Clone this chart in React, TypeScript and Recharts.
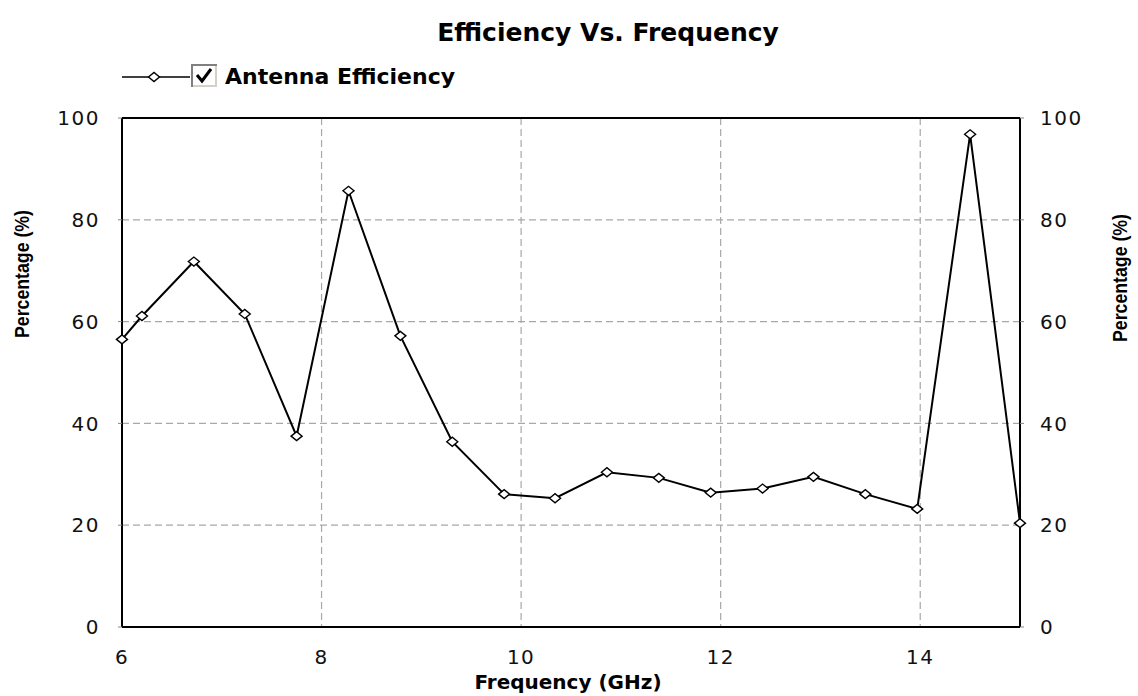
import React from "react";
import { LineChart, Line, XAxis, YAxis, CartesianGrid, ReferenceLine } from "recharts";

// frequency (GHz) of each sample
const freqs = [6.0, 6.2, 6.72, 7.23, 7.75, 8.27, 8.79, 9.31, 9.83, 10.34, 10.86, 11.38, 11.9, 12.42, 12.93, 13.45, 13.97, 14.5, 15.0];
// antenna efficiency (%)
const efficiency = [56.5, 61.1, 71.8, 61.5, 37.5, 85.7, 57.2, 36.4, 26.1, 25.3, 30.4, 29.3, 26.4, 27.2, 29.5, 26.1, 23.2, 96.8, 20.4];

const xTicks = [6, 8, 10, 12, 14];
const yTicks = [0, 20, 40, 60, 80, 100];

const W = 1138;
const H = 696;
const TICK_FONT = { fontFamily: "DejaVu Sans", fontSize: 20, fill: "#111", letterSpacing: 1.5 };
const BOLD = "DejaVu Sans";

const data = freqs.map((f, i) => ({ freq: f, eff: efficiency[i] }));

function Diamond(props: any) {
  const { cx, cy, index } = props;
  if (cx == null || cy == null) return null;
  return (
    <polygon
      key={index}
      points={`${cx - 5.5},${cy} ${cx},${cy - 4.5} ${cx + 5.5},${cy} ${cx},${cy + 4.5}`}
      fill="#fff"
      stroke="#000"
      strokeWidth={1.4}
    />
  );
}

export default function App() {
  return (
    <div style={{ position: "absolute", left: 0, top: 0, width: W, height: H, background: "#fff" }}>
      <LineChart width={W} height={H} data={data} margin={{ top: 118, right: 0, bottom: 0, left: 0 }}>
        <CartesianGrid yAxisId="left" stroke="#a8a8a8" strokeDasharray="7 4" strokeWidth={1.2} />
        <XAxis
          dataKey="freq"
          type="number"
          domain={[6, 15]}
          ticks={xTicks}
          height={69}
          axisLine={{ stroke: "#000", strokeWidth: 2 }}
          tickLine={false}
          tickMargin={17}
          tick={TICK_FONT}
        />
        <YAxis
          yAxisId="left"
          domain={[0, 100]}
          ticks={yTicks}
          width={122}
          axisLine={{ stroke: "#000", strokeWidth: 2 }}
          tickLine={{ stroke: "#888" }}
          tickSize={4}
          tickMargin={18}
          tick={TICK_FONT}
        />
        <YAxis
          yAxisId="right"
          orientation="right"
          domain={[0, 100]}
          ticks={yTicks}
          width={118}
          axisLine={{ stroke: "#000", strokeWidth: 2 }}
          tickLine={{ stroke: "#888" }}
          tickSize={4}
          tickMargin={16}
          tick={TICK_FONT}
        />
        <ReferenceLine yAxisId="left" y={100} stroke="#000" strokeWidth={2} />
        <Line
          yAxisId="left"
          type="linear"
          dataKey="eff"
          stroke="#000"
          strokeWidth={2}
          dot={Diamond}
          activeDot={false}
          isAnimationActive={false}
        />
        <Line yAxisId="right" dataKey="eff" stroke="none" dot={false} activeDot={false} isAnimationActive={false} />
      </LineChart>
      <svg width={W} height={H} style={{ position: "absolute", left: 0, top: 0, pointerEvents: "none" }}>
        <text x={608} y={41} textAnchor="middle" fontFamily={BOLD} fontWeight="bold" fontSize={25} fill="#000">
          Efficiency Vs. Frequency
        </text>
        {/* legend */}
        <line x1={122} y1={77} x2={190} y2={77} stroke="#000" strokeWidth={1.6} />
        <polygon points="148.5,77 154,72.5 159.5,77 154,81.5" fill="#fff" stroke="#000" strokeWidth={1.4} />
        <rect x={192} y={65} width={24} height={21} fill="#fff" stroke="#808080" strokeWidth={2} />
        <path d="M193 86 L216 86 L216 66" fill="none" stroke="#d4d0c8" strokeWidth={2} />
        <path d="M197 75 L202 81 L211 69" fill="none" stroke="#000" strokeWidth={3} />
        <text x={225} y={84} fontFamily={BOLD} fontWeight="bold" fontSize={22} fill="#000">
          Antenna Efficiency
        </text>
        {/* axis titles */}
        <text x={568} y={689} textAnchor="middle" fontFamily={BOLD} fontWeight="bold" fontSize={20} fill="#000">
          Frequency (GHz)
        </text>
        <text
          x={29}
          y={274}
          textAnchor="middle"
          transform="rotate(-90 29 274)"
          fontFamily="Liberation Sans"
          fontWeight="bold"
          fontSize={20}
          textLength={128}
          lengthAdjust="spacingAndGlyphs"
          fill="#000"
        >
          Percentage (%)
        </text>
        <text
          x={1127}
          y={278}
          textAnchor="middle"
          transform="rotate(-90 1127 278)"
          fontFamily="Liberation Sans"
          fontWeight="bold"
          fontSize={20}
          textLength={128}
          lengthAdjust="spacingAndGlyphs"
          fill="#000"
        >
          Percentage (%)
        </text>
      </svg>
    </div>
  );
}
